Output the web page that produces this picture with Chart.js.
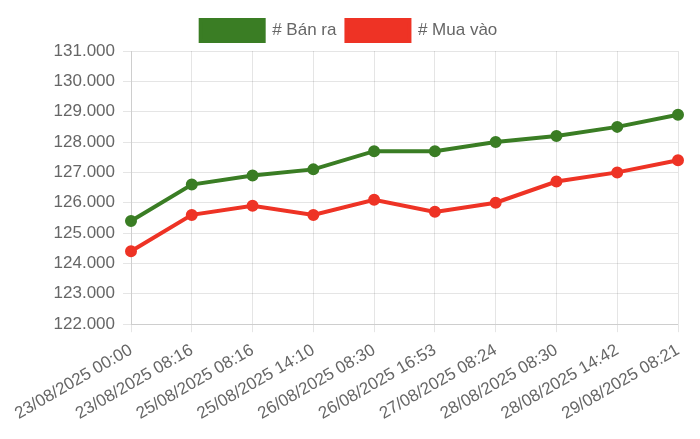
<!DOCTYPE html>
<html>
<head>
<meta charset="utf-8">
<script src="https://cdn.jsdelivr.net/npm/chart.js@4.4.0/dist/chart.umd.min.js"></script>
<style>
    html, body { margin: 0; padding: 0; background: #fff; }
    #wrap { width: 700px; height: 439px; }
</style>
</head>
<body>
<div id="wrap"><canvas id="giaChart"></canvas></div>
<script>
const labels = [
    '23/08/2025 00:00', '23/08/2025 08:16', '25/08/2025 08:16', '25/08/2025 14:10',
    '26/08/2025 08:30', '26/08/2025 16:53', '27/08/2025 08:24', '28/08/2025 08:30',
    '28/08/2025 14:42', '29/08/2025 08:21'
];
const banRa = [125400, 126600, 126900, 127100, 127700, 127700, 128000, 128200, 128500, 128900];
const muaVao = [124400, 125600, 125900, 125600, 126100, 125700, 126000, 126700, 127000, 127400];
const yMin = 122000;
const yMax = 131000;
const yStep = 1000;

// định dạng số kiểu Việt Nam: 131.000
function formatSo(v) {
    return String(v).replace(/\B(?=(\d{3})+(?!\d))/g, '.');
}

Chart.defaults.font.family = '"Liberation Sans", Arial, sans-serif';
Chart.defaults.font.size = 17;
Chart.defaults.color = '#666';

const ctx = document.getElementById('giaChart').getContext('2d');
new Chart(ctx, {
    type: 'line',
    data: {
        labels: labels,
        datasets: [
            {
                label: '# Bán ra',
                data: banRa,
                borderColor: '#3a7d24',
                backgroundColor: '#3a7d24',
                borderWidth: 4,
                pointRadius: 4,
                tension: 0
            },
            {
                label: '# Mua vào',
                data: muaVao,
                borderColor: '#ee3325',
                backgroundColor: '#ee3325',
                borderWidth: 4,
                pointRadius: 4,
                tension: 0
            }
        ]
    },
    options: {
        responsive: true,
        maintainAspectRatio: false,
        animation: false,
        layout: { padding: { top: 10, right: 22, bottom: 7, left: 20 } },
        plugins: {
            legend: {
                labels: { boxWidth: 63, boxHeight: 21, padding: 10 }
            }
        },
        scales: {
            y: {
                min: yMin,
                max: yMax,
                afterFit: axis => { axis.width = 111; },
                ticks: { stepSize: yStep, padding: 8, callback: v => formatSo(v) }
            },
            x: {
                ticks: { minRotation: 30, maxRotation: 30, padding: 8 }
            }
        }
    }
});
</script>
</body>
</html>
